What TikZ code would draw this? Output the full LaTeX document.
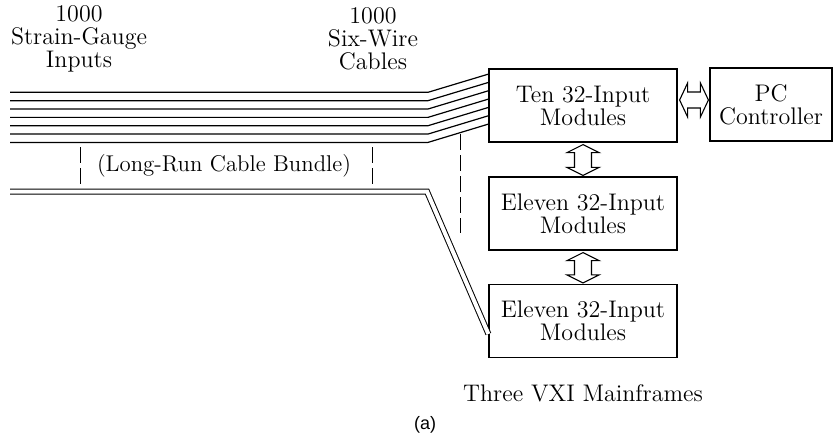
\documentclass[tikz,border=0pt]{standalone}
\usepackage{fontspec}
\newfontfamily\sansf{Liberation Sans}
\usetikzlibrary{calc}
\newcommand\vdarr[2]{\draw[line width=0.55pt] let \p1=(#1), \p2=(#2) in
 (\x1,\y1) -- (\x1+8pt,\y1-4pt) -- (\x1+4.25pt,\y1-4pt) -- (\x1+4.25pt,\y2+4pt) -- (\x1+8pt,\y2+4pt) -- (\x1,\y2) -- (\x1-8pt,\y2+4pt) -- (\x1-4.25pt,\y2+4pt) -- (\x1-4.25pt,\y1-4pt) -- (\x1-8pt,\y1-4pt) -- cycle;}
\newcommand\hdarr[2]{\draw[line width=0.55pt] let \p1=(#1), \p2=(#2) in
 (\x1,\y1) -- (\x1+4pt,\y1+8.5pt) -- (\x1+4pt,\y1+4pt) -- (\x2-4pt,\y1+4pt) -- (\x2-4pt,\y1+8.5pt) -- (\x2,\y1) -- (\x2-4pt,\y1-8.5pt) -- (\x2-4pt,\y1-4pt) -- (\x1+4pt,\y1-4pt) -- (\x1+4pt,\y1-8.5pt) -- cycle;}
\begin{document}
\begin{tikzpicture}[x=0.5pt,y=-0.5pt, line width=0.6pt,
  box/.style={draw, minimum width=94pt, minimum height=36.5pt, align=center, inner sep=0pt},
  lbl/.style={align=center, inner sep=0pt},
  dsh/.style={line width=0.5pt, dash pattern=on 8pt off 2.5pt},
  font=\fontsize{12}{11.5}\selectfont]
\useasboundingbox (0,0) rectangle (833,436);
\node[box] (b1) at (583,105.5) {Ten 32-Input\\Modules};
\node[box] (b2) at (583,213.5) {Eleven 32-Input\\Modules};
\node[box] (b3) at (583,321) {Eleven 32-Input\\Modules};
\node[box, minimum width=61pt] (pc) at (771,104.5) {PC\\Controller};
\vdarr{$(b1.south)+(0,2)$}{$(b2.north)+(0,-1)$}
\vdarr{$(b2.south)+(0,2)$}{$(b3.north)+(0,-1)$}
\hdarr{$(b1.east)+(2,-5.5)$}{$(pc.west)+(-1,-5.5)$}
\foreach \i in {0,...,6} {
  \draw (10,{92.3+8.35*\i}) coordinate (s\i) -- (428,{92.3+8.35*\i}) -- ($(b1.north west)+(0,{5.7+8.33*\i})$);
}
\coordinate (d0) at (10,191.5);
\draw[double, double distance=2pt, line width=0.5pt] (d0) -- (427,191.5) -- ($(b3.west)+(0,13)$);
\draw[dsh] (80,147) -- (80,184);
\draw[dsh] (372,147) -- (372,184);
\draw[dsh] (460,134) -- (460,233);
\node[lbl] (t1) at (79,39) {1000\\Strain-Gauge\\Inputs};
\node[lbl] (t2) at (373,39) {1000\\Six-Wire\\Cables};
\node[lbl, font=\fontsize{11.4}{11.5}\selectfont] (t3) at (224,166) {(Long-Run Cable Bundle)};
\node[lbl] (t4) at (583,393) {Three VXI Mainframes};
\node[lbl, font=\sansf\fontsize{9}{10}\selectfont] (t5) at (425,425) {(a)};
\end{tikzpicture}
\end{document}
